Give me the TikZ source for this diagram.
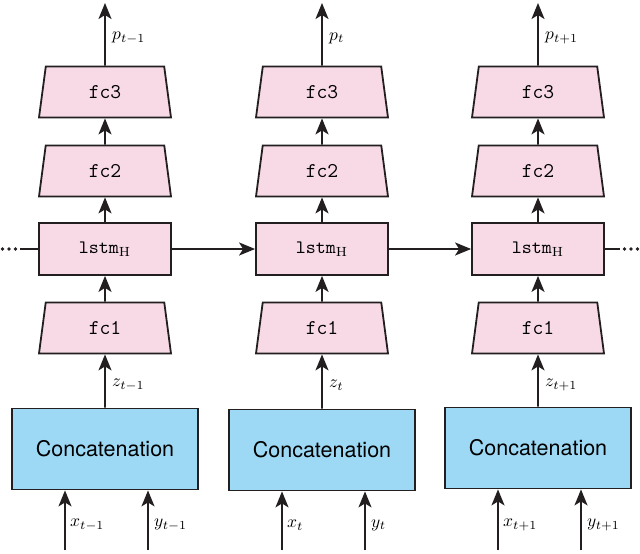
\documentclass[tikz,border=0pt]{standalone}
\usepackage{fontspec}
\newfontfamily\heros{TeX Gyre Heros}
\usetikzlibrary{shapes.geometric,arrows.meta}
\definecolor{lk}{HTML}{231F20}
\definecolor{pk}{HTML}{F8DAE7}
\definecolor{bl}{HTML}{9DD9F5}
\begin{document}
\begin{tikzpicture}[x=1pt,y=-1pt,line width=1.8pt,
  tr/.style={trapezium,trapezium stretches body,trapezium angle=63,minimum width=132pt,minimum height=51pt,inner sep=0pt,fill=pk,draw=lk,font=\ttfamily\fontsize{21}{21}\selectfont},
  bx/.style={rectangle,minimum width=132pt,minimum height=52pt,inner sep=0pt,fill=pk,draw=lk},
  cc/.style={rectangle,minimum width=186pt,minimum height=81pt,inner sep=0pt,fill=bl,draw=lk,font=\heros\fontsize{21.5}{21.5}\selectfont},
  ar/.style={draw=lk,-{Stealth[length=16pt,width=13pt,inset=4pt]}},
  lb/.style={anchor=west}]
\useasboundingbox (0,0) rectangle (640,554);
\foreach \i/\cx/\cy/\s in {1/105/449/{t-1},2/322/450/{t},3/538/448/{t+1}}{
  \node[tr] (f3\i) at (\cx,92) {fc3};
  \node[tr] (f2\i) at (\cx,171) {fc2};
  \node[bx] (l\i) at (\cx,249) {\scalebox{1.9}{\texttt{lstm}$_{\mathrm{H}}$}};
  \node[tr] (f1\i) at (\cx,328) {fc1};
  \node[cc] (c\i) at (\cx,\cy) {Concatenation};
  \coordinate (top\i) at (\cx,3);
  \coordinate (xa\i) at (\cx-40,550);
  \coordinate (ya\i) at (\cx+43,550);
  \draw[ar] (f3\i.north) -- (top\i);
  \draw[ar] (f2\i.north) -- (f3\i.south);
  \draw[ar] (l\i.north) -- (f2\i.south);
  \draw[ar] (f1\i.north) -- (l\i.south);
  \draw[ar] (c\i.north) -- (f1\i.south);
  \draw[ar] (xa\i) -- (xa\i |- c\i.south);
  \draw[ar] (ya\i) -- (ya\i |- c\i.south);
  \node[lb] (pl\i) at (\cx+3,38) {\scalebox{1.75}{$p_{\s}$}};
  \node[lb] (zl\i) at (\cx+3,385) {\scalebox{1.75}{$z_{\s}$}};
  \node[lb] (xl\i) at (\cx-39,525) {\scalebox{1.75}{$x_{\s}$}};
  \node[lb] (yl\i) at (\cx+45,525) {\scalebox{1.75}{$y_{\s}$}};
}
\draw[ar] (l1.east) -- (l2.west);
\draw[ar] (l2.east) -- (l3.west);
\coordinate (dl) at (20,249);
\coordinate (dr) at (620,249);
\draw[lk] (dl) -- (l1.west);
\draw[lk] (l3.east) -- (dr);
\foreach \x in {2.5,9,15.5}{\fill[lk] (\x,249) circle (1.8pt); \fill[lk] (640-\x,249) circle (1.8pt);}
\end{tikzpicture}
\end{document}
